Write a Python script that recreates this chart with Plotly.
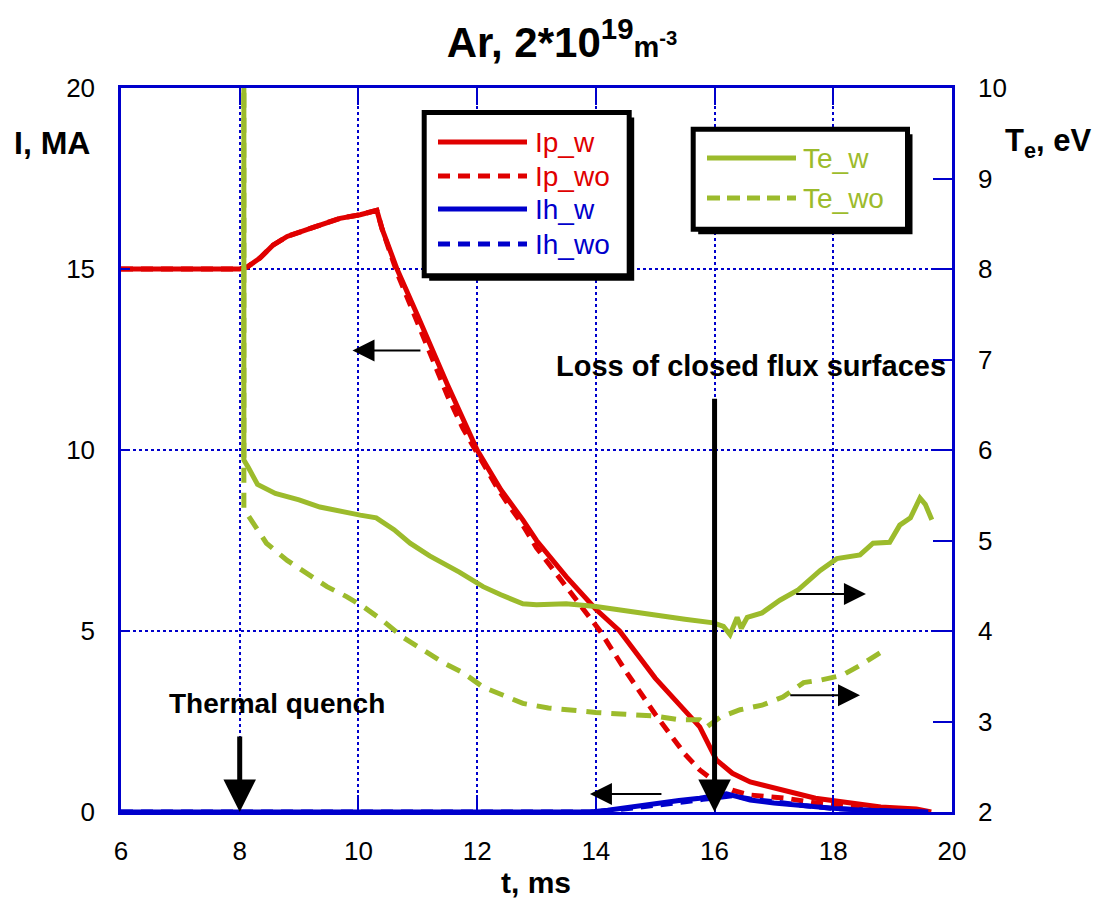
import plotly.graph_objects as go

# ---------------- data ----------------
ip_w_t = [6.0, 8.0, 8.12, 8.34, 8.56, 8.8, 9.24, 9.69, 10.03, 10.31, 10.4, 10.53, 10.65, 11.0, 11.5, 12.0,
          12.4, 12.77, 13.0, 13.5, 14.0, 14.4, 15.0, 15.5, 15.75, 16.03, 16.3, 16.6, 17.15, 17.7, 18.3, 18.8,
          19.4, 19.65]
ip_w = [15.0, 15.0, 15.05, 15.3, 15.66, 15.9, 16.15, 16.4, 16.5, 16.62, 16.1, 15.5, 15.0, 13.7, 11.8, 10.0,
        8.9, 8.07, 7.5, 6.5, 5.6, 5.0, 3.7, 2.8, 2.35, 1.44, 1.07, 0.83, 0.6, 0.38, 0.25, 0.14,
        0.08, 0.0]

ip_wo_t = [6.0, 8.0, 8.12, 8.34, 8.56, 8.8, 9.24, 9.69, 10.03, 10.31, 10.4, 10.53, 10.65, 11.0, 11.5, 11.76,
           12.1, 12.33, 12.55, 12.75, 13.0, 13.5, 14.07, 14.5, 15.0, 15.5, 15.75, 16.0, 16.3, 16.6, 17.2,
           17.7, 18.5, 19.0, 19.6]
ip_wo = [15.0, 15.0, 15.05, 15.3, 15.66, 15.9, 16.15, 16.4, 16.5, 16.62, 16.1, 15.5, 14.9, 13.5, 11.5, 10.6,
         9.64, 8.98, 8.43, 7.98, 7.3, 6.2, 5.0, 3.9, 2.7, 1.6, 1.16, 0.85, 0.6, 0.47, 0.38,
         0.25, 0.1, 0.05, 0.0]

ih_w_t = [6.0, 13.9, 14.2, 14.6, 15.0, 15.4, 15.75, 16.0, 16.2, 16.4, 16.6, 17.0, 17.5, 18.0, 18.5, 19.0, 19.6]
ih_w = [0.0, 0.0, 0.05, 0.15, 0.25, 0.32, 0.38, 0.45, 0.5, 0.42, 0.33, 0.25, 0.17, 0.1, 0.05, 0.02, 0.0]

ih_wo_t = [6.0, 13.9, 14.3, 14.7, 15.1, 15.5, 15.8, 16.1, 16.3, 16.6, 17.0, 17.5, 18.0, 18.5, 19.0, 19.5]
ih_wo = [0.0, 0.0, 0.05, 0.12, 0.2, 0.28, 0.35, 0.42, 0.45, 0.36, 0.27, 0.18, 0.1, 0.05, 0.02, 0.0]

te_w_t = [8.07, 8.07, 8.15, 8.3, 8.6, 9.0, 9.35, 9.7, 10.03, 10.3, 10.6, 10.87, 11.2, 11.7, 12.1, 12.4, 12.77,
          13.0, 13.5, 14.0, 14.5, 15.0, 15.5, 15.98, 16.15, 16.26, 16.38, 16.45, 16.55, 16.8, 17.1, 17.4,
          17.78, 18.06, 18.45, 18.67, 18.95, 19.12, 19.3, 19.46, 19.55, 19.66]
te_w = [10.5, 5.89, 5.8, 5.62, 5.52, 5.45, 5.37, 5.32, 5.28, 5.25, 5.12, 4.97, 4.83, 4.65, 4.49, 4.4, 4.3,
        4.29, 4.3, 4.27, 4.22, 4.17, 4.13, 4.09, 4.05, 3.96, 4.15, 4.03, 4.15, 4.2, 4.34, 4.45,
        4.67, 4.8, 4.84, 4.97, 4.98, 5.17, 5.25, 5.47, 5.4, 5.23]

te_wo_t = [8.07, 8.07, 8.23, 8.45, 8.8, 9.13, 9.47, 9.8, 10.08, 10.4, 10.75, 11.09, 11.43, 11.76, 12.1, 12.44,
           12.77, 13.2, 13.6, 14.0, 14.5, 15.0, 15.4, 15.75, 15.87, 16.1, 16.43, 16.8, 17.15, 17.5, 17.8,
           18.15, 18.45, 18.79]
te_wo = [10.5, 5.35, 5.19, 4.97, 4.78, 4.64, 4.49, 4.38, 4.27, 4.12, 3.93, 3.79, 3.65, 3.54, 3.38, 3.29,
         3.2, 3.15, 3.12, 3.1, 3.08, 3.06, 3.02, 3.02, 2.94, 3.05, 3.13, 3.18, 3.27, 3.43, 3.46,
         3.51, 3.62, 3.76]

x_ticks = [6, 8, 10, 12, 14, 16, 18, 20]
i_ticks = [0, 5, 10, 15, 20]
te_ticks = [2, 3, 4, 5, 6, 7, 8, 9, 10]

RED = "#E00000"
BLUE = "#0000CC"
GREEN = "#9CBB2C"
FONT = "Liberation Sans, Arial, sans-serif"

# page has an 8px body margin: figure sized to fit the 1104x905 window
OFF = 8
W, H = 1104 - OFF, 905 - OFF
L, R, T, B = 121, 952, 88, 812   # plot area in window pixels


def px(x):
    return (x - L) / (R - L)


def py(y):
    return (B - y) / (B - T)


fig = go.Figure()
dash1 = "12px,8px"
dash2 = "15px,10px"
fig.add_trace(go.Scatter(x=ip_wo_t, y=ip_wo, mode="lines", name="Ip_wo",
                         line=dict(color=RED, width=5, dash=dash1)))
fig.add_trace(go.Scatter(x=ip_w_t, y=ip_w, mode="lines", name="Ip_w",
                         line=dict(color=RED, width=5)))
fig.add_trace(go.Scatter(x=ih_wo_t, y=ih_wo, mode="lines", name="Ih_wo",
                         line=dict(color=BLUE, width=5, dash=dash1)))
fig.add_trace(go.Scatter(x=ih_w_t, y=ih_w, mode="lines", name="Ih_w",
                         line=dict(color=BLUE, width=5)))
fig.add_trace(go.Scatter(x=te_wo_t, y=te_wo, mode="lines", name="Te_wo", yaxis="y2",
                         line=dict(color=GREEN, width=5, dash=dash2)))
fig.add_trace(go.Scatter(x=te_w_t, y=te_w, mode="lines", name="Te_w", yaxis="y2",
                         line=dict(color=GREEN, width=5)))

axis_common = dict(showline=True, linecolor=BLUE, zeroline=False,
                   tickcolor=BLUE, tickwidth=2, ticks="inside",
                   tickfont=dict(family=FONT, size=26, color="black"))

fig.update_layout(
    width=W, height=H,
    margin=dict(l=L - OFF, r=W + OFF - R, t=T - OFF, b=H + OFF - B, autoexpand=False),
    plot_bgcolor="white", paper_bgcolor="white",
    showlegend=False,
    font=dict(family=FONT, color="black"),
    title=dict(text="<b>Ar, 2*10<sup>19</sup><span style='font-size:29px'>m<sup>-3</sup></span></b>",
               x=(562 - OFF) / W, xanchor="center", y=1 - (42 - OFF) / H, yanchor="middle",
               font=dict(family=FONT, size=42, color="black")),
    xaxis=dict(range=[6, 20], tickvals=x_ticks, ticklen=17, mirror="ticks", linewidth=3,
               showgrid=True, gridcolor=BLUE, gridwidth=2, griddash="dot",
               ticklabelstandoff=14, **axis_common),
    yaxis=dict(range=[0, 20], tickvals=i_ticks, ticklen=9, mirror=True, linewidth=2.5,
               showgrid=True, gridcolor=BLUE, gridwidth=2, griddash="dot",
               ticklabelstandoff=18, **axis_common),
    yaxis2=dict(range=[2, 10], tickvals=te_ticks, ticklen=19, overlaying="y", side="right",
                linewidth=2.5, showgrid=False, ticklabelstandoff=18, **axis_common),
)

shapes = []
annotations = []


def legend_box(x0, y0, x1, y1):
    shapes.append(dict(type="rect", xref="paper", yref="paper",
                       x0=px(x0 + 5), x1=px(x1 + 5), y0=py(y0 + 5), y1=py(y1 + 5),
                       fillcolor="black", line=dict(width=0), layer="above"))
    shapes.append(dict(type="rect", xref="paper", yref="paper",
                       x0=px(x0), x1=px(x1), y0=py(y0), y1=py(y1),
                       fillcolor="white", line=dict(color="black", width=5), layer="above"))


def legend_item(x0, x1, y, color, dash, label, tx):
    shapes.append(dict(type="line", xref="paper", yref="paper",
                       x0=px(x0), x1=px(x1), y0=py(y), y1=py(y),
                       line=dict(color=color, width=5, dash=dash), layer="above"))
    annotations.append(dict(text=label, xref="paper", yref="paper", x=px(tx), y=py(y),
                            xanchor="left", yanchor="middle", showarrow=False,
                            font=dict(family=FONT, size=28, color=color)))


legend_box(424.2, 112.5, 629.2, 275.8)
legend_item(438, 527, 142, RED, None, "Ip_w", 533)
legend_item(438, 527, 176, RED, dash1, "Ip_wo", 533)
legend_item(438, 527, 209, BLUE, None, "Ih_w", 533)
legend_item(438, 527, 244, BLUE, dash1, "Ih_wo", 533)

legend_box(693.2, 129.2, 907.5, 229.2)
legend_item(707, 796, 158, GREEN, None, "Te_w", 801)
legend_item(707, 796, 198, GREEN, "13px,7px", "Te_wo", 801)

# axis titles
annotations.append(dict(text="<b>I, MA</b>", xref="paper", yref="paper", x=px(52), y=py(143),
                        xanchor="center", yanchor="middle", showarrow=False,
                        font=dict(family=FONT, size=32, color="black")))
annotations.append(dict(text="<b>T<sub>e</sub>, eV</b>", xref="paper", yref="paper", x=px(1003), y=py(143),
                        xanchor="left", yanchor="middle", showarrow=False,
                        font=dict(family=FONT, size=31, color="black")))
annotations.append(dict(text="<b>t, ms</b>", xref="paper", yref="paper", x=px(536), y=py(882),
                        xanchor="center", yanchor="middle", showarrow=False,
                        font=dict(family=FONT, size=30, color="black")))

# text labels
annotations.append(dict(text="<b>Thermal quench</b>", xref="paper", yref="paper", x=px(387), y=py(703),
                        xanchor="right", yanchor="middle", showarrow=False,
                        font=dict(family=FONT, size=28, color="black")))
annotations.append(dict(text="<b>Loss of closed flux surfaces</b>", xref="paper", yref="paper",
                        x=px(751), y=py(366), xanchor="center", yanchor="middle", showarrow=False,
                        font=dict(family=FONT, size=29, color="black")))

# event arrows (thick)
for xx, tail in [(8, 2.13), (16, 11.46)]:
    annotations.append(dict(text="", x=xx, y=0, ax=xx, ay=tail, xref="x", yref="y",
                            axref="x", ayref="y", showarrow=True, arrowhead=2, arrowsize=1.3,
                            arrowwidth=5, arrowcolor="black"))

# small direction arrows
small = [((9.9, 12.75), (11.07, 12.75), "y"),
         ((13.9, 0.5), (15.13, 0.5), "y"),
         ((18.55, 4.41), (17.35, 4.41), "y2"),
         ((18.45, 3.29), (17.25, 3.29), "y2")]
for (hx, hy), (tx_, ty), yr in small:
    annotations.append(dict(text="", x=hx, y=hy, ax=tx_, ay=ty, xref="x", yref=yr,
                            axref="x", ayref=yr, showarrow=True, arrowhead=2, arrowsize=2.2,
                            arrowwidth=2, arrowcolor="black"))

fig.update_layout(shapes=shapes, annotations=annotations)
fig.write_html("out.html")
